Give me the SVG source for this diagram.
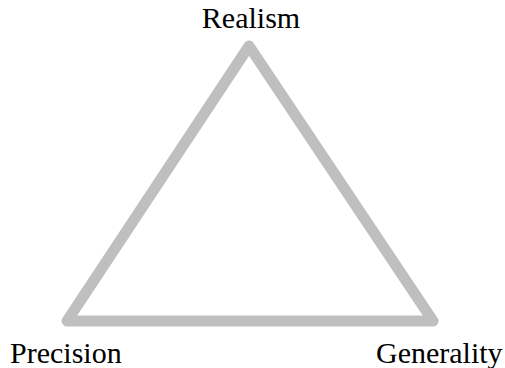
<svg xmlns="http://www.w3.org/2000/svg" width="505" height="368" viewBox="0 0 505 368">
<style>
.lbl{font-family:"Liberation Serif","Times New Roman",serif;font-size:30px;fill:#000}
.edge{fill:none;stroke:#bfbfbf;stroke-width:11;stroke-linejoin:round;stroke-linecap:round}
</style>
<rect width="505" height="368" fill="#fff"/>
<g id="connectors">
<polygon class="edge" points="249,46 67,321 433,321"/>
</g>
<g id="realism"><text class="lbl" x="251" y="28" text-anchor="middle">Realism</text></g>
<g id="precision"><text class="lbl" x="10" y="363">Precision</text></g>
<g id="generality"><text class="lbl" x="376" y="363">Generality</text></g>
</svg>
